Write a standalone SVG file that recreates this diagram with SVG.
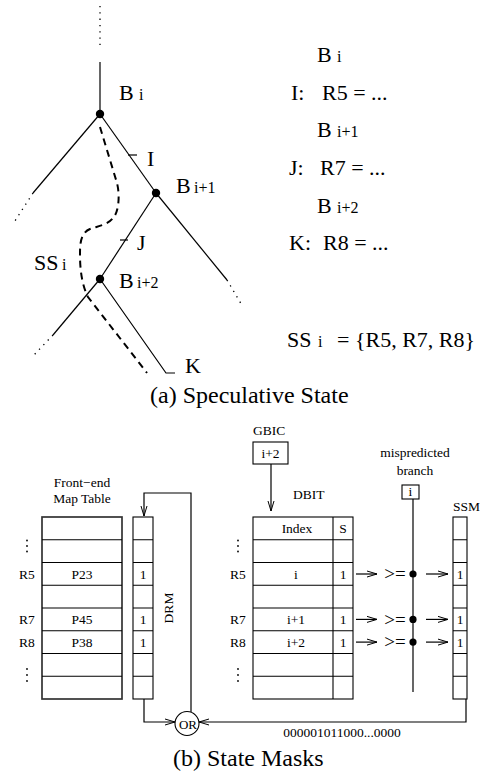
<svg xmlns="http://www.w3.org/2000/svg" width="482" height="771" viewBox="0 0 482 771">
  <style>
    text { font-family: "Liberation Serif", "Times New Roman", serif; fill: #000; }
    .lg { font-size: 22px; }
    .sub { font-size: 16px; }
    .cap { font-size: 24px; }
    .sm { font-size: 13.5px; }
    .mid { text-anchor: middle; }
    .ln { stroke: #000; stroke-width: 1.2; fill: none; }
    .dot { stroke: #000; stroke-width: 1.3; fill: none; stroke-dasharray: 1.3 5; }
    .grid { stroke: #000; stroke-width: 1.1; fill: none; }
    .frame { stroke: #333; stroke-width: 1.7; fill: none; }
    .bullet { fill: #000; }
  </style>
  <defs>
    <marker id="arr" viewBox="0 0 10 8" refX="10" refY="4" markerWidth="10" markerHeight="8" markerUnits="userSpaceOnUse" orient="auto">
      <path d="M0,1 L10,4 L0,7" fill="none" stroke="#000" stroke-width="1"/>
    </marker>
  </defs>

  <!-- (a) branch tree -->
  <g id="tree-edges">
    <line class="dot" x1="100" y1="6" x2="100" y2="50"/>
    <line class="ln" x1="100" y1="62" x2="100" y2="114"/>
    <line class="ln" x1="100" y1="114" x2="33" y2="193"/>
    <line class="dot" x1="33" y1="193" x2="13" y2="224"/>
    <line class="ln" x1="100" y1="114" x2="156" y2="193"/>
    <line class="ln" x1="156" y1="193" x2="227" y2="280"/>
    <line class="dot" x1="227" y1="280" x2="243" y2="307"/>
    <line class="ln" x1="156" y1="193" x2="100" y2="279"/>
    <line class="ln" x1="100" y1="279" x2="53" y2="335"/>
    <line class="dot" x1="53" y1="335" x2="33" y2="356"/>
    <polyline class="ln" points="100,279 166,373 175,373"/>
    <!-- instruction ticks -->
    <line class="ln" x1="128" y1="155" x2="137" y2="155"/>
    <line class="ln" x1="120" y1="240" x2="128" y2="240"/>
    <!-- speculative state boundary -->
    <path d="M100,127 L117,183 C120,195 119,212 113,218 C108,225 98,226 90,229 C80,233 80,245 80,255 C80,270 82,285 88,297 L147,373" fill="none" stroke="#000" stroke-width="2" stroke-dasharray="7 5"/>
  </g>

  <g id="node-Bi">
    <circle class="bullet" cx="100" cy="114" r="4.2"/>
    <text class="lg" x="119" y="100">B</text><text class="sub" x="139" y="100">i</text>
  </g>
  <g id="node-Bi1">
    <circle class="bullet" cx="156" cy="193" r="4.2"/>
    <text class="lg" x="176" y="193">B</text><text class="sub" x="194" y="193">i+1</text>
  </g>
  <g id="node-Bi2">
    <circle class="bullet" cx="100" cy="279" r="4.2"/>
    <text class="lg" x="119" y="288">B</text><text class="sub" x="137" y="288">i+2</text>
  </g>
  <g id="labels-tree">
    <text class="lg" x="147" y="166">I</text>
    <text class="lg" x="137" y="250">J</text>
    <text class="lg" x="34" y="270">SS</text><text class="sub" x="62" y="270">i</text>
    <text class="lg" x="185" y="373">K</text>
  </g>

  <!-- (a) code listing -->
  <g id="listing">
    <text class="lg" x="317" y="62">B</text><text class="sub" x="337" y="62">i</text>
    <text class="lg" x="291" y="100">I:</text><text class="lg" x="322" y="100">R5 = ...</text>
    <text class="lg" x="317" y="137">B</text><text class="sub" x="337" y="137">i+1</text>
    <text class="lg" x="289" y="175">J:</text><text class="lg" x="320" y="175">R7 = ...</text>
    <text class="lg" x="317" y="213">B</text><text class="sub" x="337" y="213">i+2</text>
    <text class="lg" x="289" y="250">K:</text><text class="lg" x="323" y="250">R8 = ...</text>
    <text class="lg" x="287" y="347">SS</text><text class="sub" x="318" y="347">i</text>
    <text class="lg" x="337" y="347">= {R5, R7, R8}</text>
  </g>
  <text class="cap" x="150" y="403">(a) Speculative State</text>

  <!-- (b) front-end map table -->
  <g id="map-table">
    <text class="sm mid" x="82" y="487">Front−end</text>
    <text class="sm mid" x="82" y="503">Map Table</text>
    <rect class="frame" x="42" y="517" width="80" height="182"/>
    <path class="grid" d="M42,539.75H122 M42,562.5H122 M42,585.25H122 M42,608H122 M42,630.75H122 M42,653.5H122 M42,676.25H122"/>
    <text class="sm mid" x="82" y="578.5">P23</text>
    <text class="sm mid" x="82" y="624">P45</text>
    <text class="sm mid" x="82" y="646.7">P38</text>
    <text class="sm" x="19" y="578.5">R5</text>
    <text class="sm" x="19" y="624">R7</text>
    <text class="sm" x="19" y="646.7">R8</text>
    <circle class="bullet" cx="27" cy="540.5" r="0.9"/><circle class="bullet" cx="27" cy="546" r="0.9"/><circle class="bullet" cx="27" cy="551.5" r="0.9"/>
    <circle class="bullet" cx="27" cy="669" r="0.9"/><circle class="bullet" cx="27" cy="675" r="0.9"/><circle class="bullet" cx="27" cy="681" r="0.9"/>
  </g>

  <g id="drm">
    <rect class="grid" x="133" y="517" width="20" height="182"/>
    <path class="grid" d="M133,539.75H153 M133,562.5H153 M133,585.25H153 M133,608H153 M133,630.75H153 M133,653.5H153 M133,676.25H153"/>
    <text class="sm mid" x="143" y="578.5">1</text>
    <text class="sm mid" x="143" y="624">1</text>
    <text class="sm mid" x="143" y="646.7">1</text>
    <text class="sm mid" transform="translate(173,608) rotate(-90)">DRM</text>
  </g>

  <!-- (b) GBIC and DBIT -->
  <g id="gbic">
    <text class="sm" x="253" y="435">GBIC</text>
    <rect class="grid" x="253" y="442" width="35" height="22"/>
    <text class="sm mid" x="270.5" y="458">i+2</text>
  </g>

  <g id="dbit">
    <text class="sm" x="293" y="499">DBIT</text>
    <rect class="grid" x="253" y="517" width="100" height="182"/>
    <path class="grid" d="M333,517V699 M253,539.75H353 M253,562.5H353 M253,585.25H353 M253,608H353 M253,630.75H353 M253,653.5H353 M253,676.25H353"/>
    <text class="sm mid" x="297" y="533">Index</text>
    <text class="sm mid" x="343" y="533">S</text>
    <text class="sm mid" x="296" y="578.5">i</text>
    <text class="sm mid" x="296" y="624">i+1</text>
    <text class="sm mid" x="296" y="646.7">i+2</text>
    <text class="sm mid" x="343" y="578.5">1</text>
    <text class="sm mid" x="343" y="624">1</text>
    <text class="sm mid" x="343" y="646.7">1</text>
    <text class="sm" x="230" y="578.5">R5</text>
    <text class="sm" x="230" y="624">R7</text>
    <text class="sm" x="230" y="646.7">R8</text>
    <circle class="bullet" cx="238" cy="540.5" r="0.9"/><circle class="bullet" cx="238" cy="546" r="0.9"/><circle class="bullet" cx="238" cy="551.5" r="0.9"/>
    <circle class="bullet" cx="238" cy="669" r="0.9"/><circle class="bullet" cx="238" cy="675" r="0.9"/><circle class="bullet" cx="238" cy="681" r="0.9"/>
  </g>

  <!-- (b) mispredicted branch bus -->
  <g id="mispredicted">
    <text class="sm mid" x="415" y="457">mispredicted</text>
    <text class="sm mid" x="415" y="475">branch</text>
    <rect class="grid" x="402" y="485" width="17" height="14"/>
    <text class="sm mid" x="410.5" y="496">i</text>
    <line class="ln" x1="413" y1="499" x2="413" y2="692"/>
    <circle class="bullet" cx="413" cy="574" r="3.6"/>
    <circle class="bullet" cx="413" cy="619.4" r="3.6"/>
    <circle class="bullet" cx="413" cy="642.1" r="3.6"/>
    <text class="mid" font-size="19" x="395" y="580">&gt;=</text>
    <text class="mid" font-size="19" x="395" y="625.5">&gt;=</text>
    <text class="mid" font-size="19" x="395" y="648.2">&gt;=</text>
  </g>

  <g id="ssm">
    <text class="sm" x="453" y="511">SSM</text>
    <rect class="grid" x="453" y="517" width="14" height="182"/>
    <path class="grid" d="M453,539.75H467 M453,562.5H467 M453,585.25H467 M453,608H467 M453,630.75H467 M453,653.5H467 M453,676.25H467"/>
    <text class="sm mid" x="460" y="578.5">1</text>
    <text class="sm mid" x="460" y="624">1</text>
    <text class="sm mid" x="460" y="646.7">1</text>
  </g>

  <g id="or-gate">
    <circle cx="187" cy="723.5" r="12" fill="none" stroke="#000" stroke-width="1.1"/>
    <text class="mid" font-size="13" x="188" y="728.5">OR</text>
  </g>

  <g id="connectors">
    <line class="ln" x1="271" y1="464" x2="271" y2="511" marker-end="url(#arr)"/>
    <polyline class="ln" points="191,712 191,493 144,493 144,516" marker-end="url(#arr)"/>
    <polyline class="ln" points="144,699 144,722 175,722" marker-end="url(#arr)"/>
    <polyline class="ln" points="466,699 466,722 199,722" marker-end="url(#arr)"/>
    <line class="ln" x1="356" y1="574" x2="377" y2="574" marker-end="url(#arr)"/>
    <line class="ln" x1="356" y1="619.4" x2="377" y2="619.4" marker-end="url(#arr)"/>
    <line class="ln" x1="356" y1="642.1" x2="377" y2="642.1" marker-end="url(#arr)"/>
    <line class="ln" x1="426" y1="574" x2="448" y2="574" marker-end="url(#arr)"/>
    <line class="ln" x1="426" y1="619.4" x2="448" y2="619.4" marker-end="url(#arr)"/>
    <line class="ln" x1="426" y1="642.1" x2="448" y2="642.1" marker-end="url(#arr)"/>
  </g>

  <text class="sm mid" x="342" y="737">000001011000...0000</text>
  <text class="cap" x="173" y="766">(b) State Masks</text>
</svg>
